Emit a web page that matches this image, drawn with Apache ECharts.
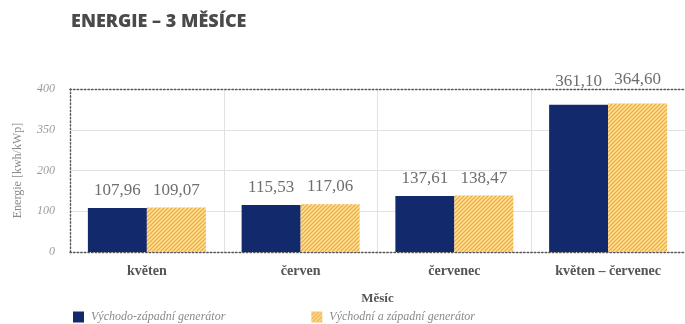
<!DOCTYPE html>
<html>
<head>
<meta charset="utf-8">
<script src="https://cdn.jsdelivr.net/npm/echarts@6/dist/echarts.min.js"></script>
<style>
  html, body { margin: 0; padding: 0; background: #fff; }
  #chart { width: 685px; height: 324px; }
</style>
</head>
<body>
<div id="chart"></div>
<script>
// Months and the summed period
const categories = ['květen', 'červen', 'červenec', 'květen – červenec'];
// Energy yield per month [kwh/kWp]
const eastWestGenerator = [107.96, 115.53, 137.61, 361.10];
const eastAndWestGenerator = [109.07, 117.06, 138.47, 364.60];
// Labels shown on the value axis, one per 100-step tick
const yTickLabels = ['0', '100', '200', '350', '400'];

const seriesNames = ['Východo-západní generátor', 'Východní a západní generátor'];

// Diagonal hatch fill for the second series
function makeHatch() {
  const c = document.createElement('canvas');
  const s = 4;
  c.width = s; c.height = s;
  const g = c.getContext('2d');
  g.fillStyle = '#fde2a2';
  g.fillRect(0, 0, s, s);
  g.strokeStyle = '#f0ad3c';
  g.lineWidth = 1.3;
  g.beginPath();
  g.moveTo(0, s); g.lineTo(s, 0);
  g.moveTo(-1, 1); g.lineTo(1, -1);
  g.moveTo(s - 1, s + 1); g.lineTo(s + 1, s - 1);
  g.stroke();
  return c;
}

const fmt = v => v.toFixed(2).replace('.', ',');
const serif = 'Liberation Serif';
const dotted = { color: '#555', type: [1.4, 2.2], width: 1.4 };

const labelStyle = {
  show: true,
  position: 'top',
  distance: 9,
  fontFamily: serif,
  fontSize: 17,
  color: '#6e6e6e',
  formatter: p => fmt(p.value)
};

function withLastLift(arr) {
  return arr.map((v, i) => i === arr.length - 1
    ? { value: v, label: { distance: 15 } }
    : v);
}

const chart = echarts.init(document.getElementById('chart'), null, { renderer: 'canvas' });

chart.setOption({
  animation: false,
  backgroundColor: '#fff',
  title: {
    text: 'ENERGIE – 3 MĚSÍCE',
    left: 66,
    top: 8,
    textStyle: {
      fontFamily: 'Open Sans',
      fontWeight: 800,
      fontSize: 18,
      color: '#4a4a4a'
    }
  },
  legend: {
    left: 68,
    top: 306,
    itemWidth: 11,
    itemHeight: 11,
    itemGap: 86,
    icon: 'rect',
    data: seriesNames,
    textStyle: {
      fontFamily: serif,
      fontStyle: 'italic',
      fontSize: 12,
      color: '#8a8a8a',
      padding: [0, 0, 0, 2]
    }
  },
  grid: {
    left: 70,
    right: 0,
    top: 89,
    bottom: 72
  },
  xAxis: [{
    type: 'category',
    data: categories,
    name: 'Měsíc',
    nameLocation: 'middle',
    nameGap: 40,
    nameTextStyle: {
      fontFamily: serif,
      fontWeight: 'bold',
      fontSize: 13,
      color: '#555'
    },
    axisLine: { show: true, lineStyle: dotted },
    axisTick: { show: false },
    axisLabel: {
      margin: 12,
      fontFamily: serif,
      fontWeight: 'bold',
      fontSize: 14,
      color: '#555'
    },
    splitLine: { show: true, interval: 0, lineStyle: { color: '#e2e2e2', width: 1 } }
  }, {
    // dotted frame line along the top of the plot
    type: 'category',
    position: 'top',
    data: categories,
    axisLine: { show: true, lineStyle: dotted },
    axisTick: { show: false },
    axisLabel: { show: false },
    splitLine: { show: false }
  }],
  yAxis: {
    type: 'value',
    min: 0,
    max: 400,
    interval: 100,
    name: 'Energie [kwh/kWp]',
    nameLocation: 'middle',
    nameGap: 46,
    nameTextStyle: {
      fontFamily: serif,
      fontSize: 12,
      color: '#8a8a8a'
    },
    axisLine: { show: true, lineStyle: dotted },
    axisTick: { show: false },
    axisLabel: {
      margin: 15,
      fontFamily: serif,
      fontStyle: 'italic',
      fontSize: 12,
      color: '#9a9a9a',
      formatter: v => yTickLabels[Math.round(v / 100)]
    },
    splitLine: {
      show: true,
      lineStyle: { color: '#e2e2e2', width: 1 }
    }
  },
  series: [{
    name: seriesNames[0],
    type: 'bar',
    data: withLastLift(eastWestGenerator),
    barWidth: 59,
    barGap: '0%',
    itemStyle: { color: '#12296b' },
    label: labelStyle
  }, {
    name: seriesNames[1],
    type: 'bar',
    data: withLastLift(eastAndWestGenerator),
    barWidth: 59,
    barGap: '0%',
    itemStyle: { color: { image: makeHatch(), repeat: 'repeat' } },
    label: labelStyle
  }]
});
</script>
</body>
</html>
